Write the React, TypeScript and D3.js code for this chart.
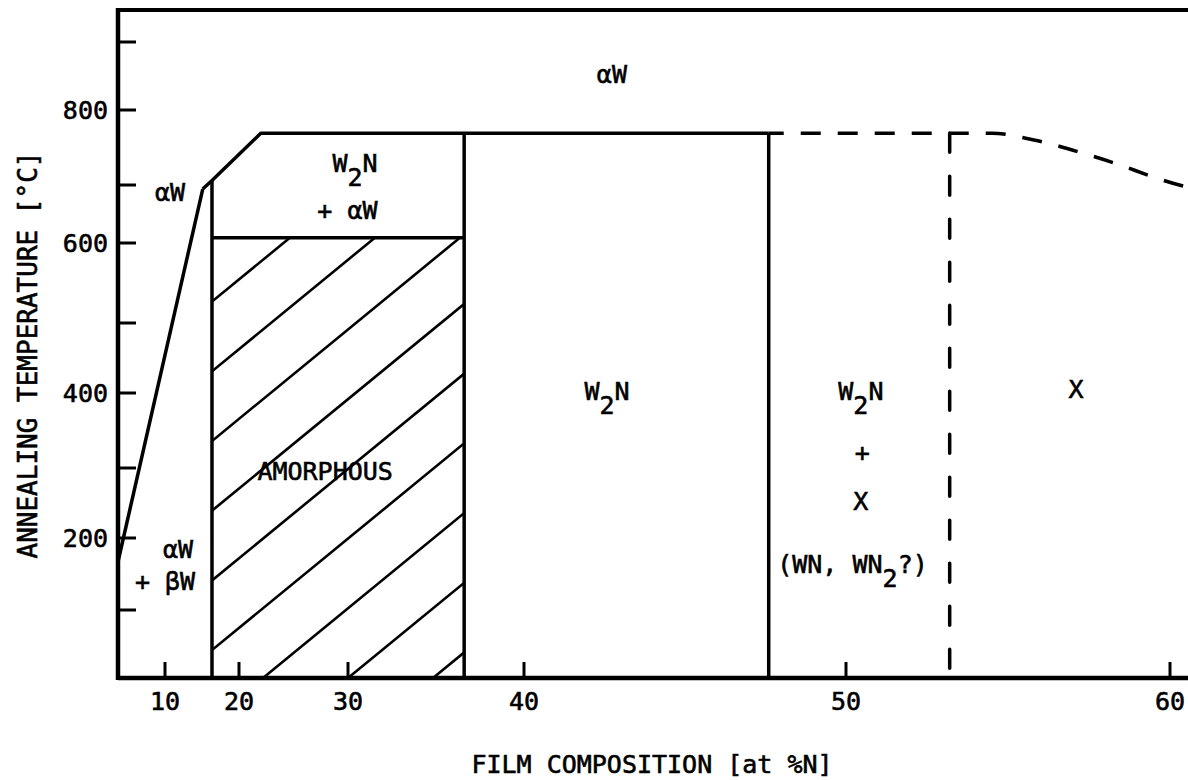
import React from "react";
import * as d3 from "d3";

const W = 1188;
const H = 780;

// Axis ticks (the original hand-drawn axes are non-uniform; scales are calibrated to them)
const xTickValues = [10, 20, 30, 40, 50, 60];
const yTickValues = [100, 200, 300, 400, 500, 600, 700, 800, 900];
const yLabelValues = [200, 400, 600, 800];

// Phase boundaries: [at %N, °C]
const alphaBetaBoundary: [number, number][] = [[3.65, 167], [15.1, 693]];
const upperBoundary: [number, number][] = [[15.1, 693], [16.35, 706], [22, 769], [47.6, 769]];
const dashedUpper: [number, number][] = [[47.6, 769], [54.5, 769], [55.8, 760], [57.8, 736], [60.5, 697], [61.2, 689]];
const solidVerticals = [
  { x: 16.35, t0: 0, t1: 706 },
  { x: 36.6, t0: 0, t1: 769 },
  { x: 47.6, t0: 0, t1: 769 },
];
const dashedVertical = { x: 53.2, t0: 9, t1: 769 };
const amorphous = { x0: 16.35, x1: 36.6, t0: 0, t1: 609 };
const hatchAnchorX = 30; // a hatch line passes through (30 at%N, 0 °C)

type Lbl = { x: number; t: number; parts: { s: string; sub?: boolean }[] };
const labels: Lbl[] = [
  { x: 42.73, t: 840, parts: [{ s: "αW" }] },
  { x: 10.68, t: 672, parts: [{ s: "αW" }] },
  { x: 30.4, t: 717, parts: [{ s: "W" }, { s: "2", sub: true }, { s: "N" }] },
  { x: 29.95, t: 642, parts: [{ s: "+ αW" }] },
  { x: 27.9, t: 283, parts: [{ s: "AMORPHOUS" }] },
  { x: 42.58, t: 391, parts: [{ s: "W" }, { s: "2", sub: true }, { s: "N" }] },
  { x: 50.46, t: 391, parts: [{ s: "W" }, { s: "2", sub: true }, { s: "N" }] },
  { x: 50.5, t: 309, parts: [{ s: "+" }] },
  { x: 50.46, t: 240, parts: [{ s: "X" }] },
  { x: 50.2, t: 151, parts: [{ s: "(WN, WN" }, { s: "2", sub: true }, { s: "?)" }] },
  { x: 57.1, t: 393, parts: [{ s: "X" }] },
  { x: 11.76, t: 172, parts: [{ s: "αW" }] },
  { x: 10.0, t: 128, parts: [{ s: "+ βW" }] },
];

const FONT = "'DejaVu Sans Mono', monospace";

export default function App() {
  const x = d3
    .scaleLinear()
    .domain([3.65, 10, 20, 30, 40, 50, 60, 61.2])
    .range([118, 165, 239, 348, 524, 846, 1170, 1209]);
  const y = d3
    .scaleLinear()
    .domain([0, 100, 200, 300, 400, 500, 600, 700, 800, 900, 947])
    .range([678, 610, 538, 468, 393, 323, 243, 185, 110, 42, 10]);
  const tTop = 947;

  const line = d3
    .line<[number, number]>()
    .x((d) => x(d[0]))
    .y((d) => y(d[1]));
  const curve = d3
    .line<[number, number]>()
    .x((d) => x(d[0]))
    .y((d) => y(d[1]))
    .curve(d3.curveMonotoneX);

  // hatch lines
  const ax0 = x(amorphous.x0), ax1 = x(amorphous.x1);
  const ay0 = y(amorphous.t1), ay1 = y(amorphous.t0);
  const slope = 0.82;
  const spacing = 85;
  const anchor = x(hatchAnchorX);
  const hatch: { x1: number; y1: number; x2: number; y2: number }[] = [];
  const hgt = ay1 - ay0;
  for (let k = -10; k <= 10; k++) {
    const bx = anchor + k * spacing;
    hatch.push({ x1: bx, y1: ay1, x2: bx + hgt / slope, y2: ay0 });
  }

  const axisStroke = 4.5;
  const bStroke = 3.5;
  const textStroke = { stroke: "#000", strokeWidth: 0.6 };

  return (
    <svg
      width={W}
      height={H}
      style={{ position: "absolute", left: 0, top: 0, background: "#fff" }}
      fontFamily={FONT}
    >
      <rect x={0} y={0} width={W} height={H} fill="#fff" />
      <defs>
        <clipPath id="amClip">
          <rect x={ax0} y={ay0} width={ax1 - ax0} height={ay1 - ay0} />
        </clipPath>
      </defs>

      {/* hatch */}
      <g clipPath="url(#amClip)" stroke="#000" strokeWidth={2.6}>
        {hatch.map((h, i) => (
          <line key={i} x1={h.x1} y1={h.y1} x2={h.x2} y2={h.y2} />
        ))}
      </g>

      {/* boundaries */}
      <g fill="none" stroke="#000" strokeWidth={bStroke} strokeLinejoin="round">
        <path d={line(alphaBetaBoundary) || ""} />
        <path d={line(upperBoundary) || ""} />
        {solidVerticals.map((v, i) => (
          <line key={i} x1={x(v.x)} x2={x(v.x)} y1={y(v.t0)} y2={y(v.t1)} />
        ))}
        <line x1={ax0} x2={ax1} y1={ay0} y2={ay0} />
        <path d={curve(dashedUpper) || ""} strokeDasharray="20 17" strokeDashoffset={5} />
        <line
          x1={x(dashedVertical.x)}
          x2={x(dashedVertical.x)}
          y1={y(dashedVertical.t1)}
          y2={y(dashedVertical.t0)}
          strokeDasharray="19 24"
          strokeLinecap="round"
        />
      </g>

      {/* axes frame */}
      <g stroke="#000" strokeWidth={axisStroke} fill="none">
        <line x1={x(3.65)} x2={W} y1={y(0)} y2={y(0)} />
        <line x1={x(3.65)} x2={x(3.65)} y1={y(0) + 2} y2={y(tTop) - 2} />
        <line x1={x(3.65)} x2={W} y1={y(tTop)} y2={y(tTop)} strokeWidth={3.8} />
      </g>

      {/* ticks */}
      <g stroke="#000" strokeWidth={3}>
        {yTickValues.map((v) => (
          <line key={v} x1={x(3.65)} x2={x(3.65) + 18} y1={y(v)} y2={y(v)} />
        ))}
        {xTickValues.map((v) => (
          <line key={v} x1={x(v)} x2={x(v)} y1={y(0)} y2={y(0) - 16} />
        ))}
      </g>

      {/* tick labels */}
      <g fontSize={25} fill="#000" {...textStroke}>
        {yLabelValues.map((v) => (
          <text key={v} x={x(3.65) - 10} y={y(v)} textAnchor="end" dominantBaseline="central">
            {v}
          </text>
        ))}
        {xTickValues.map((v) => (
          <text key={v} x={x(v)} y={710} textAnchor="middle">
            {v}
          </text>
        ))}
      </g>

      {/* region labels */}
      <g fontSize={25} fill="#000" {...textStroke}>
        {labels.map((l, i) => (
          <text key={i} x={x(l.x)} y={y(l.t)} textAnchor="middle">
            {l.parts.map((p, j) => {
              const prevSub = j > 0 && l.parts[j - 1].sub;
              const dy = p.sub ? 14 : prevSub ? -14 : 0;
              return (
                <tspan key={j} dy={dy}>
                  {p.s}
                </tspan>
              );
            })}
          </text>
        ))}
      </g>

      {/* axis titles */}
      <text x={652} y={773} fontSize={25} textAnchor="middle" fill="#000" {...textStroke}>
        FILM COMPOSITION [at %N]
      </text>
      <text
        transform="translate(37,355) rotate(-90)"
        fontSize={26}
        textAnchor="middle"
        fill="#000"
        {...textStroke}
      >
        ANNEALING TEMPERATURE [°C]
      </text>
    </svg>
  );
}
